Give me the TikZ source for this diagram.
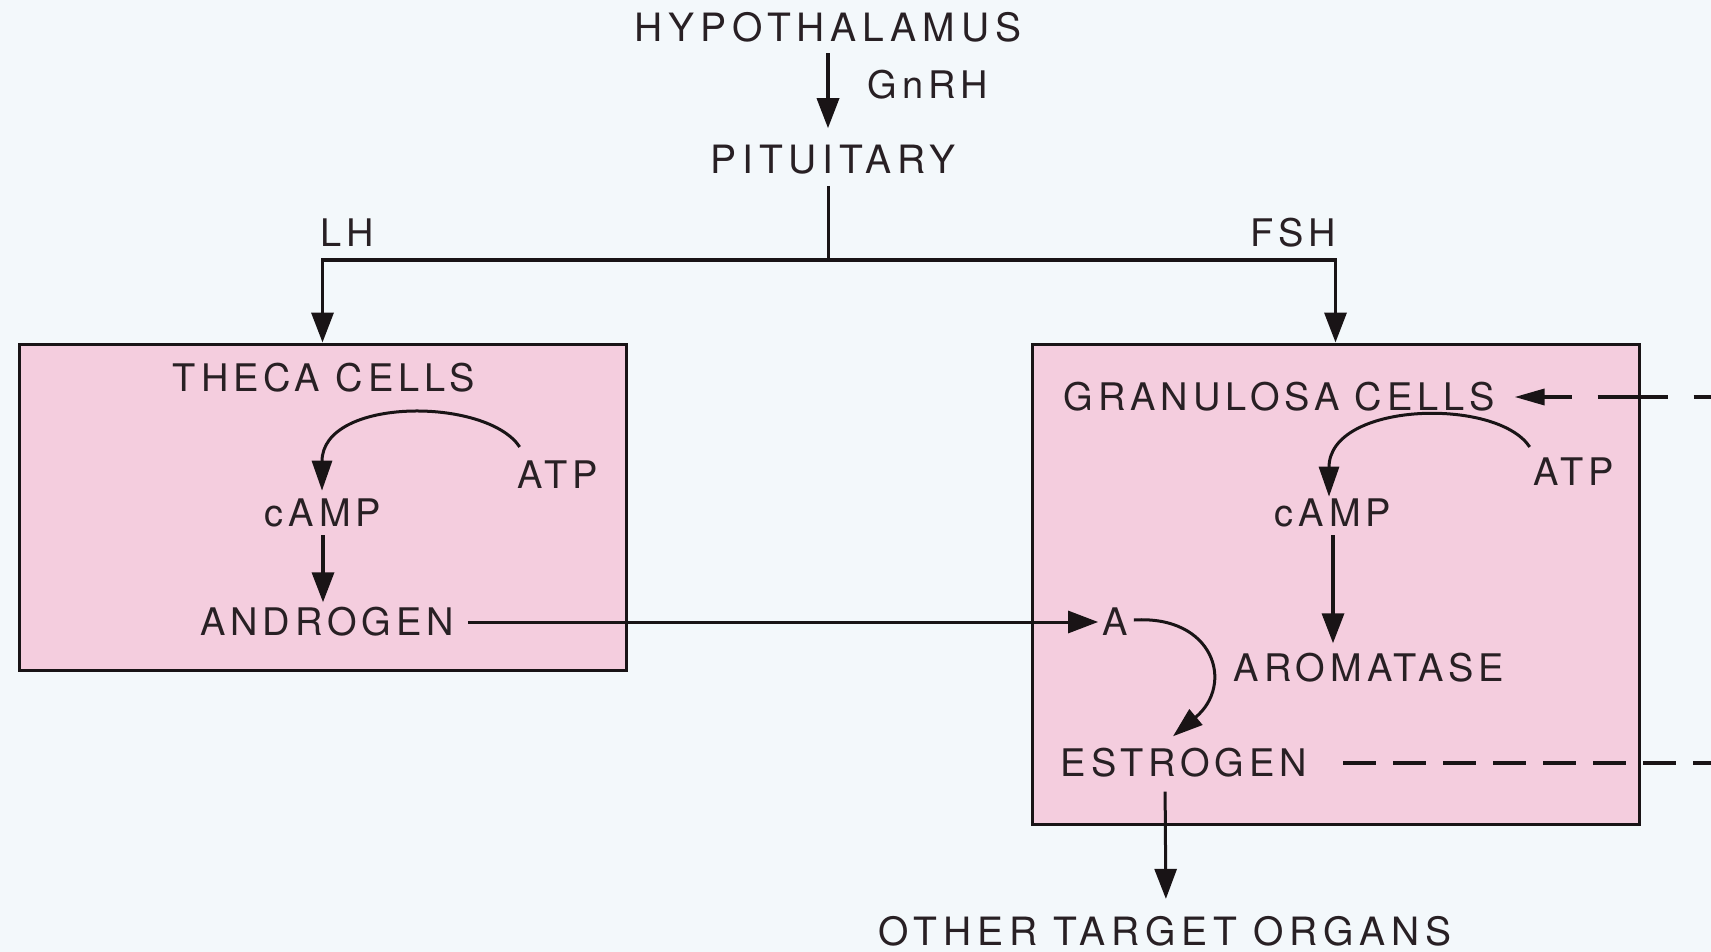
\documentclass[tikz,border=0pt]{standalone}
\usepackage{fontspec}
\setmainfont{TeX Gyre Heros}[LetterSpace=13]
\newfontfamily\widefont{TeX Gyre Heros}[LetterSpace=15]
\usetikzlibrary{arrows.meta}
\definecolor{bg}{RGB}{243,248,251}
\definecolor{pinkbox}{RGB}{244,205,222}
\definecolor{ink}{RGB}{40,32,36}
\definecolor{ln}{RGB}{25,20,22}
\begin{document}
\begin{tikzpicture}[x=1pt,y=-1pt,
  every node/.style={font=\fontsize{38}{40}\selectfont, text=ink, inner sep=0pt},
  outer/.style={font=\widefont\fontsize{39}{41}\selectfont},
  cellbox/.style={draw=ln, fill=pinkbox, line width=3pt},
  ln/.style={draw=ln, line width=3pt},
  arr/.style={draw=ln, line width=3.5pt, -{Triangle[length=30pt,width=22pt]}},
  carr/.style={draw=ln, line width=3pt, -{Triangle[length=30pt,width=20pt]}},
  dasharr/.style={draw=ln, line width=3.5pt, dash pattern=on 70pt off 26pt, dash phase=42pt, {Triangle[length=30pt,width=16pt]}-},
  dsh/.style={draw=ln, line width=3.5pt, dash pattern=on 33pt off 17pt}]
\fill[bg] (0,0) rectangle (1711,952);
\useasboundingbox (0,0) rectangle (1711,952);

% boxes
\node[cellbox, minimum width=607pt, minimum height=326pt] (theca) at (322.5,507) {};
\node[cellbox, minimum width=607pt, minimum height=480pt] (gran) at (1335.5,584) {};

% texts
\node[outer] (hyp) at (828,27) {HYPOTHALAMUS};
\node (gnrh) at (928,85) {GnRH};
\node[outer] (pit) at (833,160) {PITUITARY};
\node (lh) at (347,233) {LH};
\node (fsh) at (1293,233) {FSH};
\node (thecat) at (324,378) {THECA CELLS};
\node (atp1) at (558,475) {ATP};
\node (camp1) at (323,513) {cAMP};
\node (andr) at (327,622) {ANDROGEN};
\node (grant) at (1279,397) {GRANULOSA CELLS};
\node (atp2) at (1574,472) {ATP};
\node (camp2) at (1333,513) {cAMP};
\node (arom) at (1369,668) {AROMATASE};
\node (a) at (1115,622) {A};
\node (estr) at (1184,763) {ESTROGEN};
\node[outer] (other) at (1165,931) {OTHER TARGET ORGANS};

\coordinate (mid) at (828,260);
\coordinate (edge1) at (1711,397);
\coordinate (edge2) at (1711,763);

% connectors
\draw[arr, shorten <=11pt, shorten >=17pt] (hyp.south) -- (pit.north -| hyp.south);
\draw[ln, shorten <=11pt] (pit.south -| mid) -- (mid);
\draw[arr] (mid) -| (theca.north);
\draw[arr] (mid) -| (gran.north);

\draw[carr] ([shift={(2,-14)}]atp1.north west) .. controls +(-33,-50) and +(0,-94) .. ([shift={(-1,-8)}]camp1.north);
\draw[arr, shorten <=8pt, shorten >=5pt] (camp1.south) -- (andr.north -| camp1.south);

\draw[carr] ([shift={(-4,-11)}]atp2.north west) .. controls +(-33,-50) and +(0,-95) .. ([shift={(-4,-2)}]camp2.north);
\draw[arr, shorten <=8pt, shorten >=10pt] (camp2.south) -- (arom.north -| camp2.south);

\draw[arr, line width=3pt, shorten <=14pt, shorten >=4pt] (andr.east) -- (a.west);
\draw[carr] ([shift={(6,-2)}]a.east) .. controls +(80,-5) and +(62,-52) .. ([shift={(-11,-12)}]estr.north);
\draw[arr, line width=3pt, shorten <=14pt, shorten >=17pt] ([xshift=-19pt]estr.south) -- ([xshift=1pt]other.north);

\draw[dasharr, shorten <=20pt] (grant.east) -- (edge1);
\draw[dsh, shorten <=36pt] (estr.east) -- (edge2);
\end{tikzpicture}
\end{document}
